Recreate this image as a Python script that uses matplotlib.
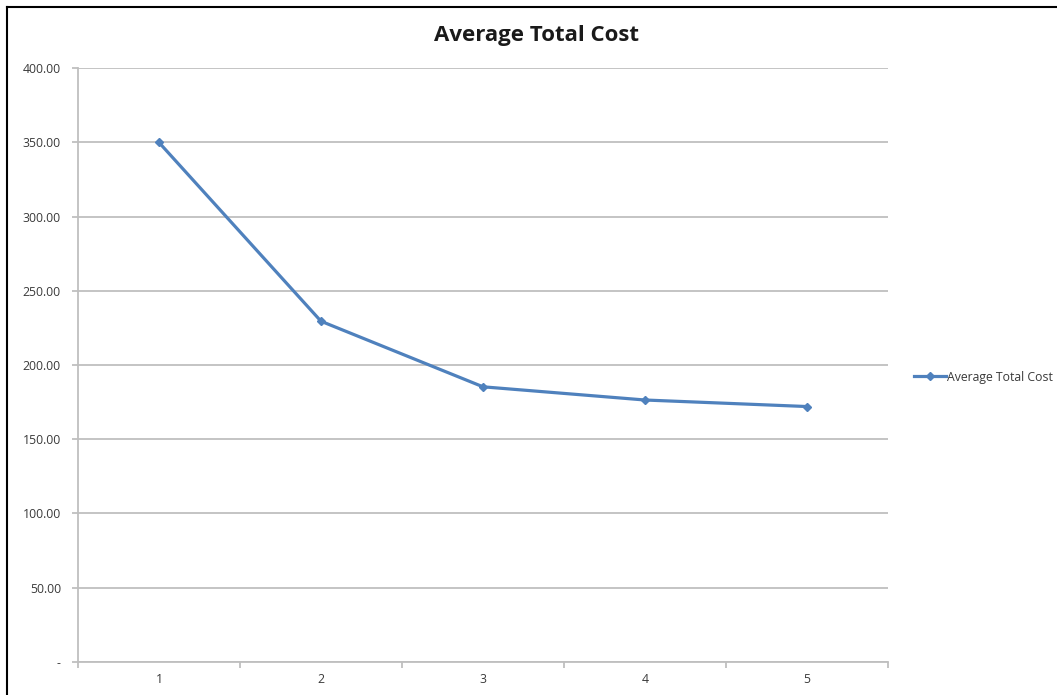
import matplotlib
matplotlib.use("Agg")
import matplotlib.pyplot as plt
from matplotlib.lines import Line2D
from matplotlib.ticker import MultipleLocator, FuncFormatter
import numpy as np

categories = ["1", "2", "3", "4", "5"]
avg_total_cost = [350.0, 229.5, 185.3, 176.4, 172.0]

LINE_BLUE = "#4F81BD"
GRID_GRAY = "#BFBFBF"
TEXT_GRAY = "#3A3A3A"

plt.rcParams["font.family"] = ["Open Sans", "DejaVu Sans"]

fig = plt.figure(figsize=(10.57, 6.95), dpi=100)
ax = fig.add_axes([78 / 1057, 1 - 661.7 / 695, 810 / 1057, 593.4 / 695])

x = np.arange(1, len(categories) + 1)
ax.plot(x, avg_total_cost, color=LINE_BLUE, linewidth=2.3, marker="D",
        markersize=4.5, markeredgecolor=LINE_BLUE, label="Average Total Cost",
        zorder=3)

ax.set_xlim(0.5, len(categories) + 0.5)
ax.set_ylim(0, 400)
ax.set_xticks(x)
ax.set_xticklabels(categories)
ax.set_xticks(np.arange(0.5, len(categories) + 1, 1.0), minor=True)
ax.yaxis.set_major_locator(MultipleLocator(50))
ax.yaxis.set_major_formatter(FuncFormatter(lambda v, _: "-" if v == 0 else f"{v:.2f}"))

ax.grid(axis="y", color=GRID_GRAY, linewidth=1.3, zorder=0)
ax.set_axisbelow(True)
for side in ("top", "right"):
    ax.spines[side].set_visible(False)
for side in ("left", "bottom"):
    ax.spines[side].set_color(GRID_GRAY)
    ax.spines[side].set_linewidth(1.3)

ax.tick_params(axis="y", which="major", length=4.3, width=1.3, color=GRID_GRAY,
               labelsize=8.8, labelcolor=TEXT_GRAY, pad=8)
ax.tick_params(axis="x", which="major", length=0, labelsize=8.8,
               labelcolor=TEXT_GRAY, pad=8)
ax.tick_params(axis="x", which="minor", length=4, width=1.3, color=GRID_GRAY)

fig.text(537 / 1057, 1 - 35 / 695, "Average Total Cost", ha="center",
         va="center", fontsize=16, fontweight="bold", color="#1A1A1A")

fig.legend(loc="center left", bbox_to_anchor=(903 / 1057, 1 - 377 / 695),
           frameon=False, fontsize=8.8, handlelength=2.6, handletextpad=0.1,
           labelcolor=TEXT_GRAY)

# outer chart frame (left and top edges)
fig.add_artist(Line2D([7 / 1057, 7 / 1057], [0, 1 - 7 / 695], color="black",
                      linewidth=1.5, transform=fig.transFigure))
fig.add_artist(Line2D([7 / 1057, 1], [1 - 7 / 695, 1 - 7 / 695], color="black",
                      linewidth=1.5, transform=fig.transFigure))

fig.savefig("out.png", dpi=100)
